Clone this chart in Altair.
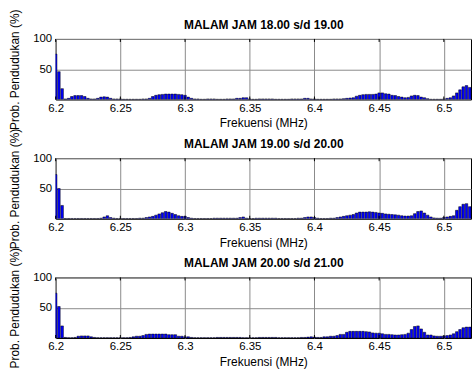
import altair as alt
import pandas as pd

# Bin centres of the occupancy histogram: 6.200 .. 6.520 MHz in 2.5 kHz steps
FREQ = [round(6.2 + 0.0025 * i, 4) for i in range(129)]

X_TICKS = [6.2, 6.25, 6.3, 6.35, 6.4, 6.45, 6.5]
Y_TICKS = [50, 100]

TITLES = [
    "MALAM JAM 18.00 s/d 19.00",
    "MALAM JAM 19.00 s/d 20.00",
    "MALAM JAM 20.00 s/d 21.00",
]

# Occupancy probability (%) per bin, 18.00 - 19.00
OCC_18_19 = [
    75, 46, 18, 1,   2, 5, 6.5, 6.5,   6.5, 5, 2, 1,   1, 2, 4, 4.5,
    4, 2, 1, 1,   1, 0.5, 0.5, 0.5,   0.5, 0.5, 0.5, 1,   1, 2, 5, 7,
    8, 8.5, 9, 9,   9, 9, 8.5, 8,   7, 4, 2, 1,   1, 0.5, 0.5, 1,
    1, 1, 0.5, 0.5,   0.5, 1, 1, 1,   2, 2, 3, 3,   1, 0.5, 0.5, 1,
    1, 1, 1, 1,   0.5, 0.5, 0.5, 0.5,   0.5, 1, 1, 1,   1, 2, 2, 1,
    1, 0.5, 0.5, 0.5,   0.5, 0.5, 1, 1,   1, 1.5, 2, 2.5,   3, 5.5, 7, 8,
    8.5, 8.5, 8.5, 9,   11, 11, 9.5, 9,   7, 6.5, 5, 4,   3, 3.5, 6, 7,
    6.5, 4, 3, 1.5,   0.5, 0.5, 0.5, 0.5,   1, 2, 3, 6,   11, 16, 21, 23,
    20,
]

# Occupancy probability (%) per bin, 19.00 - 20.00
OCC_19_20 = [
    73, 50, 22, 0.5,   0.5, 0.5, 0.5, 0.5,   0.5, 0.5, 0.5, 0.5,   0.5, 0.5, 1, 3,
    5, 2, 1, 0.5,   0.5, 0.5, 0.5, 0.5,   0.5, 0.5, 1, 1,   2, 3, 4, 6,
    8, 10, 12, 11,   9, 7, 5, 4,   4, 2, 1, 0.5,   0.5, 0.5, 0.5, 0.5,
    0.5, 1, 1, 1,   1, 1, 1, 1,   1, 2, 3, 1,   0.5, 0.5, 1, 1,
    1, 1, 1, 1,   1, 0.5, 0.5, 0.5,   0.5, 0.5, 0.5, 1,   1, 2, 3, 3,
    2, 1, 0.5, 0.5,   0.5, 1, 1, 2,   3, 4, 5, 6,   7, 9.5, 11, 11,
    11, 11.5, 11, 10.5,   9.5, 9, 8, 7.5,   7, 6.5, 6, 5,   4.5, 4.5, 5, 8.5,
    12, 13, 9.5, 6,   3, 1.5, 1, 1,   2, 3, 4, 5,   14, 20, 24, 25,
    20,
]

# Occupancy probability (%) per bin, 20.00 - 21.00
OCC_20_21 = [
    74, 52, 20, 1,   0.5, 0.5, 1, 3,   3.5, 3.5, 3.5, 2,   1, 0.5, 0.5, 0.5,
    0.5, 0.5, 0.5, 0.5,   0.5, 0.5, 0.5, 1,   2, 3, 3, 4,   6, 6.5, 6.5, 6.5,
    6.5, 6.5, 6.5, 5.5,   5.5, 5.5, 3, 3,   2, 2, 1, 0.5,   0.5, 0.5, 0.5, 0.5,
    0.5, 0.5, 1, 1,   1, 1, 1, 1,   1, 1, 0.5, 0.5,   0.5, 0.5, 0.5, 1,
    1, 1, 1, 1,   1, 0.5, 0.5, 0.5,   0.5, 0.5, 0.5, 0.5,   1, 1, 1.5, 2,
    1.5, 1, 1, 2,   2, 3, 3, 4,   6, 6, 9.5, 11,   11, 11, 11, 11,
    10.5, 10, 8.5, 8,   8, 7, 6, 6,   5.5, 5, 5, 5.5,   6, 8, 14, 19,
    20, 15, 9.5, 5,   5, 3.5, 3, 3,   3.5, 4, 5, 7,   10.5, 14, 17, 18,
    18,
]

FONT = "Liberation Sans"
X_DOMAIN = [6.2, 6.521]
HALF_BAR = 0.001  # bar width 0.8 of the 2.5 kHz bin


def panel(title, values):
    df = pd.DataFrame({"f": FREQ, "p": values})
    xs = alt.Scale(domain=X_DOMAIN, nice=False, zero=False)
    ys = alt.Scale(domain=[0, 100], nice=False, zero=True)

    bars = (
        alt.Chart(df)
        .transform_calculate(f0=f"datum.f - {HALF_BAR}", f1=f"datum.f + {HALF_BAR}")
        .mark_rect(fill="#0000ff", stroke="#000000", strokeWidth=0.5, clip=True)
        .encode(
            x=alt.X(
                "f0:Q",
                scale=xs,
                axis=alt.Axis(
                    values=X_TICKS,
                    format=".3~f",
                    title="Frekuensi (MHz)",
                    grid=True,
                    gridColor="#8a8a8a",
                    ticks=False,
                    domain=False,
                    labelFlush=False,
                    labelPadding=3,
                    titlePadding=4,
                ),
            ),
            x2="f1:Q",
            y=alt.Y(
                "p:Q",
                scale=ys,
                axis=alt.Axis(
                    values=Y_TICKS,
                    title="Prob. Pendudukan (%)",
                    grid=True,
                    gridColor="#8a8a8a",
                    ticks=False,
                    domain=False,
                    labelFlush=False,
                    labelPadding=4,
                    titleX=-34,
                    titleY=30.5,
                    titleAngle=-90,
                    titleAlign="center",
                    titleBaseline="bottom",
                ),
            ),
            y2=alt.datum(0),
        )
    )

    tick_df = pd.DataFrame({"t": X_TICKS})
    bottom_ticks = alt.Chart(tick_df).mark_rule(color="#000000", strokeWidth=1).encode(
        x=alt.X("t:Q", scale=xs, axis=None), y=alt.datum(0), y2=alt.datum(5)
    )
    # Inward top ticks; their top axis carries the panel heading
    top_ticks = alt.Chart(tick_df).mark_rule(color="#000000", strokeWidth=1).encode(
        x=alt.X(
            "t:Q",
            scale=xs,
            axis=alt.Axis(
                orient="top",
                title=title,
                labels=False,
                ticks=False,
                domain=False,
                grid=False,
                titleFontWeight="bold",
                titleFontSize=12,
                titlePadding=7.5,
            ),
        ),
        y=alt.datum(95),
        y2=alt.datum(100),
    )

    return (
        alt.layer(bars, bottom_ticks, top_ticks)
        .resolve_axis(x="independent")
        .properties(width=418, height=61)
    )


chart = (
    alt.vconcat(*[panel(t, v) for t, v in zip(TITLES, [OCC_18_19, OCC_19_20, OCC_20_21])],
                spacing=59, bounds="flush")
    .properties(padding={"left": 8, "top": 7, "right": 0, "bottom": 0}, background="#ffffff")
    .configure_view(stroke="#000000", strokeWidth=1)
    .configure_axis(
        labelFont=FONT,
        titleFont=FONT,
        labelFontSize=11.5,
        titleFontSize=12,
        titleFontWeight="normal",
        labelColor="#000000",
        titleColor="#000000",
    )
)

chart.save("out.html", embed_options={"renderer": "svg", "actions": False})
